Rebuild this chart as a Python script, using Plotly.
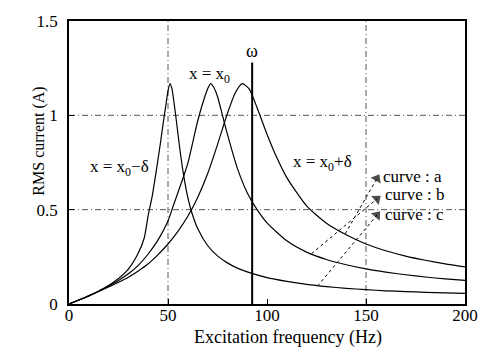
import plotly.graph_objects as go

# ---------------- data ----------------
freq_minus = [0, 5, 10, 15, 20, 25, 30, 35, 38, 40, 42, 44, 46, 48, 49, 50, 51, 52, 53, 54,
              56, 58, 60, 62, 65, 70, 75, 80, 85, 90, 100, 110, 120, 130, 140, 150, 160,
              170, 180, 190, 200]
curr_minus = [0, 0.021, 0.044, 0.069, 0.098, 0.135, 0.185, 0.27, 0.35, 0.47, 0.57, 0.70, 0.84,
              0.99, 1.06, 1.13, 1.168, 1.14, 1.07, 0.99, 0.82, 0.675, 0.565, 0.485, 0.40,
              0.31, 0.255, 0.218, 0.19, 0.17, 0.14, 0.12, 0.104, 0.092, 0.083, 0.076, 0.070,
              0.066, 0.062, 0.059, 0.056]

freq_zero = [0, 5, 10, 15, 20, 25, 30, 35, 40, 45, 50, 52, 55, 58, 60, 63, 65, 68, 70, 71.5,
             73, 75, 78, 80, 85, 90, 95, 100, 110, 120, 130, 140, 150, 160, 170, 180, 190, 200]
curr_zero = [0, 0.021, 0.043, 0.068, 0.096, 0.125, 0.16, 0.205, 0.265, 0.34, 0.44, 0.50, 0.59,
             0.68, 0.745, 0.88, 0.97, 1.08, 1.14, 1.168, 1.15, 1.10, 0.98, 0.90, 0.72, 0.59,
             0.50, 0.43, 0.335, 0.275, 0.236, 0.208, 0.186, 0.169, 0.155, 0.143, 0.133, 0.125]

freq_plus = [0, 5, 10, 15, 20, 25, 30, 35, 40, 45, 50, 55, 60, 65, 70, 75, 80, 84, 87.5, 91,
             95, 100, 105, 110, 120, 130, 140, 150, 160, 170, 180, 190, 200]
curr_plus = [0, 0.021, 0.043, 0.066, 0.09, 0.115, 0.142, 0.175, 0.213, 0.262, 0.318, 0.385,
             0.465, 0.565, 0.69, 0.845, 1.01, 1.12, 1.168, 1.14, 1.04, 0.90, 0.775, 0.67,
             0.52, 0.428, 0.367, 0.318, 0.282, 0.254, 0.232, 0.213, 0.197]

curve_labels = ["x = x<sub>0</sub>\u2212\u03b4", "x = x<sub>0</sub>", "x = x<sub>0</sub>+\u03b4"]
curve_label_freq = [25.5, 71, 128]
curve_label_curr = [0.72, 1.215, 0.75]

omega_freq = 92.5
omega_top = 1.28

point_names = ["curve : a", "curve : b", "curve : c"]
point_freq = [139.5, 122.5, 125.5]
point_curr = [0.372, 0.267, 0.095]
head_freq = [155.5, 155.5, 155.5]
head_curr = [0.665, 0.557, 0.471]
name_freq = [157.5, 158.5, 158.5]
name_curr = [0.678, 0.578, 0.474]

grid_x = [50, 150]
grid_y = [0.5, 1.0]

x_ticks = [0, 50, 100, 150, 200]
y_ticks = [0, 0.5, 1, 1.5]
y_tick_text = ["0", "0.5", "1", "1.5"]

# ---------------- figure ----------------
FONT = "Liberation Serif, Times New Roman, serif"
fig = go.Figure()

for fx, cy in [(freq_minus, curr_minus), (freq_zero, curr_zero), (freq_plus, curr_plus)]:
    fig.add_trace(go.Scatter(x=fx, y=cy, mode="lines",
                             line=dict(color="black", width=1.2, shape="spline", smoothing=0.6),
                             showlegend=False, hoverinfo="skip"))

for i in range(len(point_names)):
    fig.add_trace(go.Scatter(
        x=[point_freq[i], head_freq[i]], y=[point_curr[i], head_curr[i]],
        mode="lines", line=dict(color="black", width=1, dash="dot"),
        showlegend=False, hoverinfo="skip"))
    fig.add_trace(go.Scatter(
        x=[point_freq[i], head_freq[i]], y=[point_curr[i], head_curr[i]],
        mode="markers",
        marker=dict(symbol=["circle", "triangle-up"], size=[8, 10], color="black",
                    angleref="previous", line=dict(width=0)),
        showlegend=False, hoverinfo="skip"))
    fig.add_annotation(x=name_freq[i], y=name_curr[i], text=point_names[i], showarrow=False,
                       xanchor="left", yanchor="middle",
                       font=dict(family=FONT, size=17, color="black"))

for xv in grid_x:
    fig.add_shape(type="line", x0=xv, x1=xv, y0=0, y1=1.5, xref="x", yref="y",
                  line=dict(color="#555555", width=1, dash="6px,3px,1px,3px"), layer="below")
for yv in grid_y:
    fig.add_shape(type="line", x0=0, x1=200, y0=yv, y1=yv, xref="x", yref="y",
                  line=dict(color="#555555", width=1, dash="6px,3px,1px,3px"), layer="below")

fig.add_shape(type="line", x0=omega_freq, x1=omega_freq, y0=0, y1=omega_top,
              xref="x", yref="y", line=dict(color="black", width=2))
fig.add_annotation(x=omega_freq, y=omega_top, text="\u03c9", showarrow=False,
                   xanchor="center", yanchor="bottom",
                   font=dict(family=FONT, size=18, color="black"))

for t, fx, cy in zip(curve_labels, curve_label_freq, curve_label_curr):
    fig.add_annotation(x=fx, y=cy, text=t, showarrow=False, xanchor="center", yanchor="middle",
                       font=dict(family=FONT, size=17, color="black"))

fig.add_annotation(x=-0.078, y=0.574, xref="paper", yref="paper", text="RMS current (A)",
                   textangle=-90, showarrow=False, xanchor="center", yanchor="middle",
                   font=dict(family=FONT, size=16, color="black"))
fig.add_annotation(x=0.552, y=-0.12, xref="paper", yref="paper",
                   text="Excitation frequency (Hz)", showarrow=False,
                   xanchor="center", yanchor="middle",
                   font=dict(family=FONT, size=18, color="black"))

fig.update_xaxes(range=[0, 200], tickvals=x_ticks, ticks="inside", ticklen=5,
                 tickcolor="black", showline=True, linecolor="black", linewidth=1.5,
                 mirror=True, showgrid=False, zeroline=False, ticklabelstandoff=-5,
                 tickfont=dict(family=FONT, size=17, color="black"))
fig.update_yaxes(range=[0, 1.5], tickvals=y_ticks, ticktext=y_tick_text, ticks="inside",
                 ticklen=5, tickcolor="black", showline=True, linecolor="black", linewidth=1.5,
                 mirror=True, showgrid=False, zeroline=False, ticklabelstandoff=6,
                 tickfont=dict(family=FONT, size=17, color="black"))

fig.update_layout(width=490, height=354, margin=dict(l=69, r=19, t=15, b=50),
                  plot_bgcolor="white", paper_bgcolor="white", showlegend=False)

fig.write_html("out.html")
